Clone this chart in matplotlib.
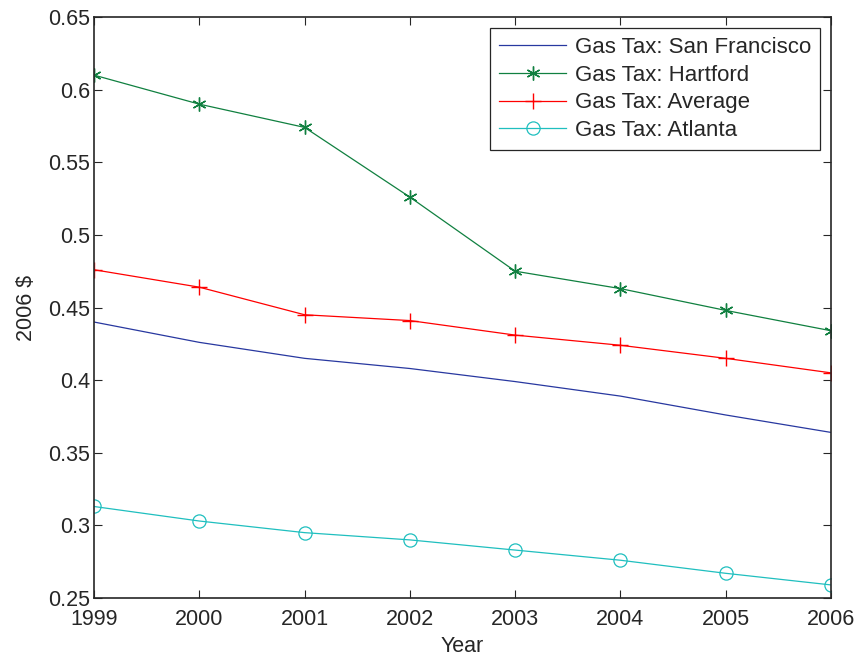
import numpy as np
import matplotlib.pyplot as plt

plt.rcParams['font.family'] = ['Liberation Sans', 'DejaVu Sans']

years = [1999, 2000, 2001, 2002, 2003, 2004, 2005, 2006]
san_francisco = [0.440, 0.426, 0.415, 0.408, 0.399, 0.389, 0.376, 0.364]
hartford = [0.610, 0.590, 0.574, 0.526, 0.475, 0.463, 0.448, 0.434]
average = [0.476, 0.464, 0.445, 0.441, 0.431, 0.424, 0.415, 0.405]
atlanta = [0.313, 0.303, 0.295, 0.290, 0.283, 0.276, 0.267, 0.259]
ytick_labels = ['0.25', '0.3', '0.35', '0.4', '0.45', '0.5', '0.55', '0.6', '0.65']

fig = plt.figure(figsize=(8.62, 6.61), dpi=100)
ax = fig.add_axes([94/862, 1 - 598/661, 737/862, 581/661])

ax.plot(years, san_francisco, color='#2838a0', lw=0.9, label='Gas Tax: San Francisco')
ax.plot(years, hartford, color='#108040', lw=0.9, marker=(6, 2, 0), ms=10, mew=1.0,
        label='Gas Tax: Hartford')
ax.plot(years, average, color='#ff0000', lw=0.9, marker='+', ms=11, mew=1.0,
        label='Gas Tax: Average')
ax.plot(years, atlanta, color='#1fbfbf', lw=0.9, marker='o', ms=9.5, mew=0.9,
        mfc='none', label='Gas Tax: Atlanta')

ax.set_xlim(1999, 2006)
ax.set_ylim(0.25, 0.65)
ax.set_xticks(years)
ax.set_yticks(np.arange(0.25, 0.651, 0.05))
ax.set_yticklabels(ytick_labels)
ax.tick_params(direction='in', top=True, right=True, length=6, width=0.8,
               labelsize=15.5, colors='#262626')
ax.tick_params(axis='x', pad=8)
ax.tick_params(axis='y', pad=3)
for s in ax.spines.values():
    s.set_linewidth(1.2)
    s.set_color('#262626')

ax.set_xlabel('Year', fontsize=15.5, color='#262626', labelpad=4)
ax.set_ylabel('2006 $', fontsize=15.5, color='#262626', labelpad=8)

leg = ax.legend(loc='upper right', fontsize=16, fancybox=False, framealpha=1,
                edgecolor='#262626', borderaxespad=0.5, handlelength=3.0,
                labelspacing=0.3, borderpad=0.4, handletextpad=0.4)
leg.get_frame().set_linewidth(0.9)
for t in leg.get_texts():
    t.set_color('#262626')

fig.savefig('out.png', dpi=100)
